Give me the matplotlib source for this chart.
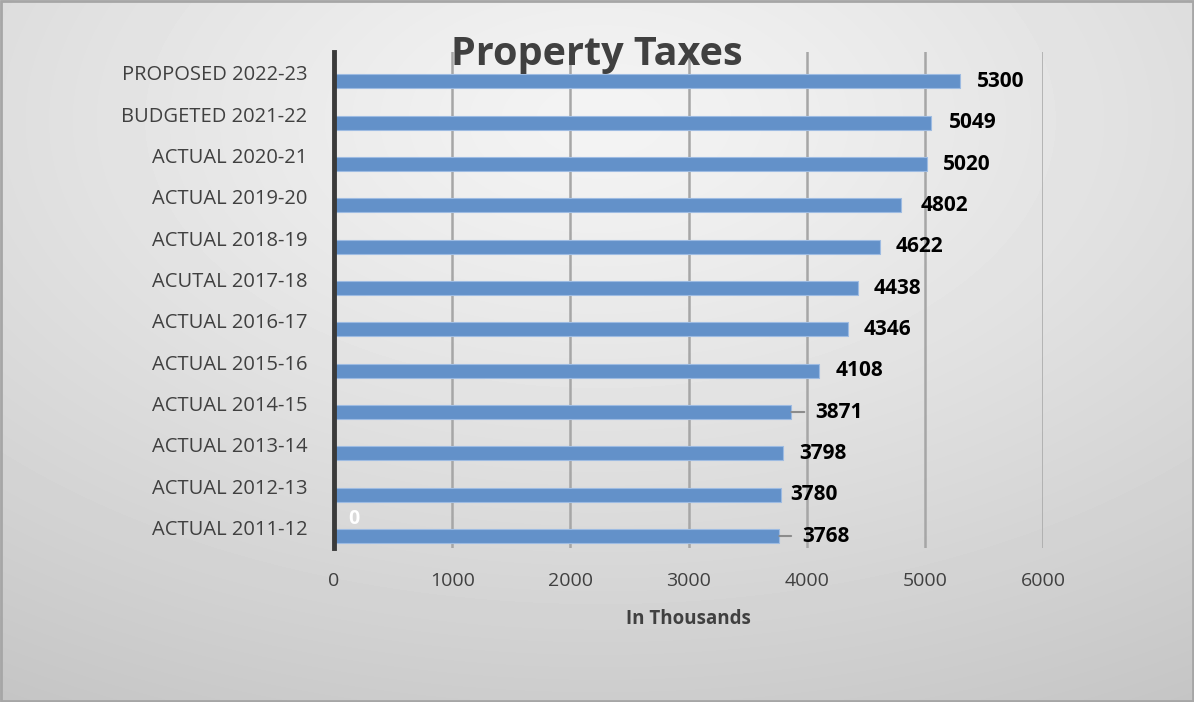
# Property taxes horizontal bar chart
import numpy as np
import matplotlib
matplotlib.use('Agg')
import matplotlib.pyplot as plt
from matplotlib.patches import Rectangle

plt.rcParams['font.family'] = ['Open Sans', 'DejaVu Sans']

# data (bottom to top)
categories = ['ACTUAL 2011-12', 'ACTUAL 2012-13', 'ACTUAL 2013-14', 'ACTUAL 2014-15',
              'ACTUAL 2015-16', 'ACTUAL 2016-17', 'ACUTAL 2017-18', 'ACTUAL 2018-19',
              'ACTUAL 2019-20', 'ACTUAL 2020-21', 'BUDGETED 2021-22', 'PROPOSED 2022-23']
values = [3768, 3780, 3798, 3871, 4108, 4346, 4438, 4622, 4802, 5020, 5049, 5300]
zero_series = [0] * len(categories)
x_ticks = [0, 1000, 2000, 3000, 4000, 5000, 6000]

# label offsets from bar end (pixels); leader lines where Excel moved labels
label_dx = [23, 10, 16, 24, 16, 16, 15, 15, 19, 16, 18, 17]
leader = [True, False, False, True, False, False, False, False, False, False, False, False]

W, H = 1194, 702
fig = plt.figure(figsize=(W / 100, H / 100), dpi=100)

# radial gradient background
bg = fig.add_axes([0, 0, 1, 1], zorder=-10)
yy, xx = np.mgrid[0:H, 0:W]
r = np.sqrt(((xx - 600) / W) ** 2 + ((yy - 120) / H) ** 2)
r = np.clip(r / r.max(), 0, 1)
c0, c1 = 0.955, 0.77
shade = c0 + (c1 - c0) * r ** 1.2
bg.imshow(shade, cmap='gray', vmin=0, vmax=1, extent=[0, W, H, 0], aspect='auto')
bg.add_patch(Rectangle((1, 1), W - 2, H - 2, fill=False, edgecolor='#a6a6a6', lw=2))
bg.set_xlim(0, W)
bg.set_ylim(H, 0)
bg.axis('off')

ax = fig.add_axes([334 / W, 1 - 548 / H, (1043 - 334) / W, 496 / H])
ax.set_facecolor('none')

y = np.arange(len(categories))
bar_h = 0.34
off = 0.21
ax.barh(y - off, values, height=bar_h, color='#6391c9', edgecolor='#9dbbe2', lw=0.8, zorder=3)
ax.barh(y + off, zero_series, height=bar_h, color='#a5a5a5', zorder=3)

for i, v in enumerate(values):
    arrow = None
    if leader[i]:
        arrow = dict(arrowstyle='-', color='#8c8c8c', lw=1.5, shrinkA=6, shrinkB=0)
    ax.annotate(str(v), xy=(v, y[i] - off), xytext=(label_dx[i], 0),
                textcoords='offset pixels', ha='left', va='center',
                fontsize=15, fontweight='bold', color='black', zorder=5,
                arrowprops=arrow)

# the single visible label of the empty series
ax.annotate(str(zero_series[0]), xy=(0, y[0] + off), xytext=(14, 0),
            textcoords='offset pixels', ha='left', va='center',
            fontsize=14, fontweight='bold', color='white', zorder=5)

ax.set_xlim(0, 6000)
ax.set_ylim(-0.5, len(categories) - 0.5)
ax.set_xticks(x_ticks)
ax.set_xticklabels([str(t) for t in x_ticks])
ax.set_yticks(y)
ax.set_yticklabels(categories)
ax.tick_params(axis='y', length=0, pad=19, labelsize=14.5, labelcolor='#404040')
ax.tick_params(axis='x', length=0, pad=17, labelsize=14, labelcolor='#404040')

ax.grid(axis='x', color='#a6a6a6', lw=1.8, zorder=0)
for s in ['top', 'right', 'bottom']:
    ax.spines[s].set_visible(False)
ax.spines['left'].set_color('#3a3a3a')
ax.spines['left'].set_linewidth(3.5)
ax.spines['left'].set_zorder(4)

ax.set_xlabel('In Thousands', fontsize=13.5, fontweight='bold', color='#404040', labelpad=14)
fig.text(597 / W, 1 - 54 / H, 'Property Taxes', ha='center', va='center',
         fontsize=28.5, fontweight='bold', color='#404040')

fig.savefig('out.png', dpi=100)
